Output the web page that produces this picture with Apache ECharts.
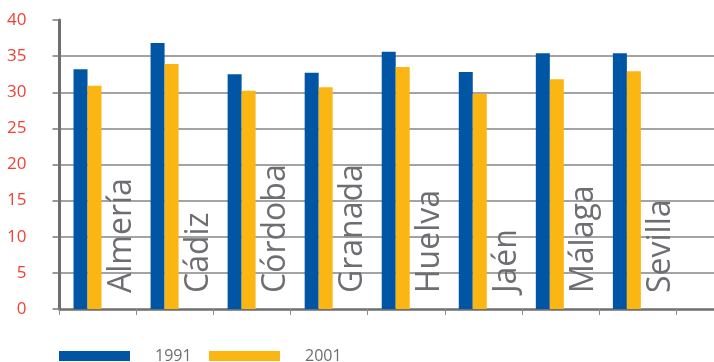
<!DOCTYPE html>
<html>
<head>
<meta charset="utf-8">
<script src="https://cdn.jsdelivr.net/npm/echarts@6/dist/echarts.min.js"></script>
<style>
html,body{margin:0;padding:0;background:#fff;}
#c{width:714px;height:362px;}
</style>
</head>
<body>
<div id="c"></div>
<script>
var categories = ['Almería', 'Cádiz', 'Córdoba', 'Granada', 'Huelva', 'Jaén', 'Málaga', 'Sevilla'];
var seriesNames = ['1991', '2001'];
var values1991 = [33.2, 36.8, 32.5, 32.7, 35.6, 32.8, 35.4, 35.4];
var values2001 = [30.9, 33.9, 30.2, 30.7, 33.5, 29.8, 31.8, 32.9];
var yTicks = [0, 5, 10, 15, 20, 25, 30, 35, 40];

var spacer = categories.map(function () { return 0; });

var chart = echarts.init(document.getElementById('c'), null, { renderer: 'canvas' });
var grey = '#6d6e71';
var font = 'Open Sans';
var yMin = yTicks[0], yMax = yTicks[yTicks.length - 1], yStep = yTicks[1] - yTicks[0];

function legendFor(name, left) {
  return {
    data: [name], left: left, top: 348, padding: 0, icon: 'rect', itemWidth: 71, itemHeight: 10,
    textStyle: { color: grey, fontFamily: font, fontSize: 16, padding: [0, 0, 0, 20] }
  };
}

chart.setOption({
  animation: false,
  grid: [
    { left: 59.5, top: 20, right: 0, height: 289, containLabel: false },
    { left: 59.5, top: 20, width: 616.4, height: 289, containLabel: false }
  ],
  legend: [legendFor(seriesNames[0], 59), legendFor(seriesNames[1], 209)],
  xAxis: [
    {
      gridIndex: 0, type: 'value', min: 0, max: 1,
      axisLine: { show: true, onZero: false, lineStyle: { color: '#6f6f6f', width: 2.5 } },
      axisTick: { show: false }, axisLabel: { show: false }, splitLine: { show: false }
    },
    {
      gridIndex: 1, type: 'category', data: categories, boundaryGap: true,
      axisLine: { show: false },
      axisTick: { show: true, length: 6, lineStyle: { color: '#8a8a8a', width: 1 } },
      axisLabel: { show: false }, splitLine: { show: false }
    }
  ],
  yAxis: [
    {
      gridIndex: 0, type: 'value', min: yMin, max: yMax, interval: yStep,
      axisLine: { show: true, lineStyle: { color: grey, width: 3 } },
      axisTick: { show: true, length: 7, lineStyle: { color: '#7a7a7a', width: 1.5 } },
      axisLabel: { color: '#ef4136', fontFamily: font, fontSize: 17, margin: 33 },
      splitLine: { show: true, showMinLine: false, showMaxLine: false, lineStyle: { color: '#858585', width: 1.5 } }
    },
    {
      gridIndex: 1, type: 'value', min: yMin, max: yMax, interval: yStep, show: false
    }
  ],
  series: [
    {
      name: seriesNames[0], type: 'bar', xAxisIndex: 1, yAxisIndex: 1, data: values1991,
      barWidth: 14, barGap: '0%', itemStyle: { color: '#0056a4' }
    },
    {
      name: seriesNames[1], type: 'bar', xAxisIndex: 1, yAxisIndex: 1, data: values2001,
      barWidth: 14, barGap: '0%', itemStyle: { color: '#fcb614' }
    },
    {
      name: 'labels', type: 'bar', xAxisIndex: 1, yAxisIndex: 1, data: spacer,
      barWidth: 21, barGap: '0%', silent: true,
      itemStyle: { color: 'rgba(0,0,0,0)' },
      label: {
        show: true, position: 'insideBottom', distance: 16, rotate: 90,
        align: 'left', verticalAlign: 'middle',
        formatter: function (p) { return p.name; },
        color: grey, fontFamily: font, fontSize: 32
      },
      labelLayout: { dx: 0, dy: 10 }
    }
  ]
});
</script>
</body>
</html>
